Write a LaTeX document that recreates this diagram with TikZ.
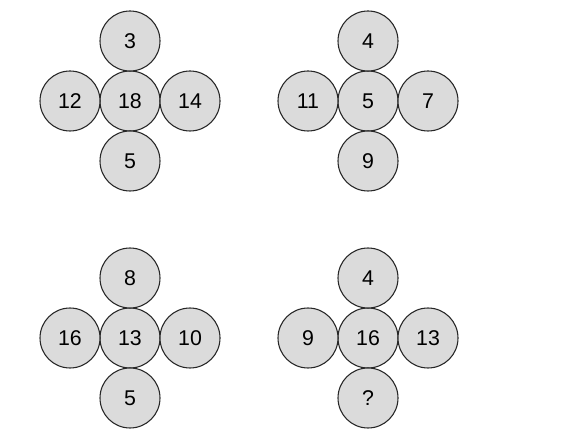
\documentclass[tikz,border=0pt]{standalone}
\usepackage{fontspec}
\setmainfont{Liberation Sans}
\usetikzlibrary{positioning}
\tikzset{
  ball/.style={circle, draw=black!85, line width=0.8pt, fill=black!14,
    minimum size=45pt, inner sep=0pt, font=\fontsize{16}{19}\selectfont},
}
% one cross of five balls: #1 name, (#2,#3) centre, #4 centre text, #5 top, #6 left, #7 right, #8 bottom
\newcommand{\wheel}[8]{%
  \node[ball] (#1c) at (#2,#3) {#4};
  \node[ball] (#1t) at (#2,#3-60) {#5};
  \node[ball] (#1l) at (#2-60,#3) {#6};
  \node[ball] (#1r) at (#2+60,#3) {#7};
  \node[ball] (#1b) at (#2,#3+60) {#8};}

\begin{document}
\begin{tikzpicture}[x=0.75pt, y=-0.75pt]
\useasboundingbox (0,0) rectangle (566,448);
% upper pair
\wheel{a}{130}{101}{18}{3}{12}{14}{5}
\wheel{b}{368}{101}{5}{4}{11}{7}{9}
% lower pair
\wheel{c}{130}{338}{13}{8}{16}{10}{5}
\wheel{d}{368}{338}{16}{4}{9}{13}{?}
\end{tikzpicture}
\end{document}
